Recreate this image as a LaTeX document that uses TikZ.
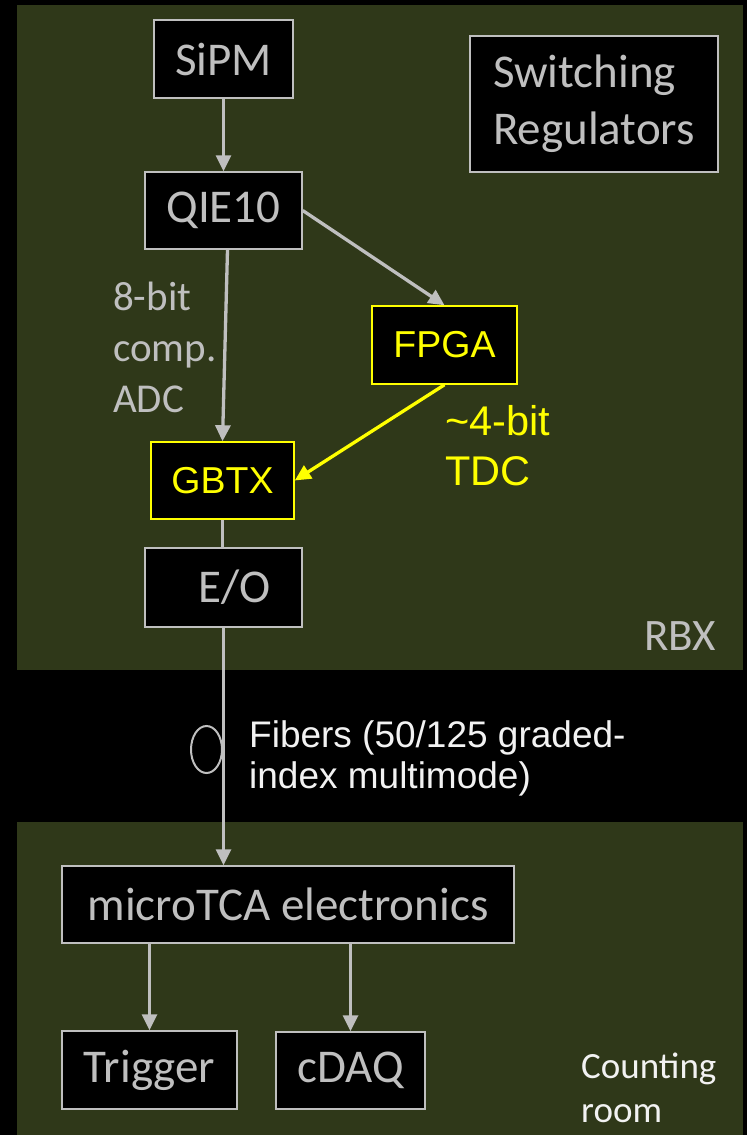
\documentclass[tikz,border=0pt]{standalone}
\usepackage{fontspec}
\setmainfont{Carlito}
\newfontfamily\arialf{Liberation Sans}
\usetikzlibrary{arrows.meta,calc,shapes.geometric}
\definecolor{panelgreen}{HTML}{2F3819}
\definecolor{lgray}{HTML}{BFBFBF}
\definecolor{yel}{HTML}{FFFF00}
\definecolor{offwhite}{HTML}{F2F2F2}
\begin{document}
\begin{tikzpicture}[x=1pt,y=-1pt,
  box/.style={draw=lgray, line width=1.5pt, fill=black, text=lgray, inner sep=0pt, font=\fontsize{47}{57}\selectfont},
  ybox/.style={box, draw=yel, text=yel, font=\arialf\fontsize{37.5}{45}\selectfont},
  arr/.style={draw=lgray, line width=3.3pt, -{Triangle[length=16pt,width=15pt]}},
  yarr/.style={arr, draw=yel, fill=yel},
  plain/.style={draw=lgray, line width=3.3pt},
  lbl/.style={inner sep=0pt, align=left}]
\useasboundingbox (0,0) rectangle (747,1135);
\fill[black] (0,0) rectangle (747,1135);
\fill[panelgreen] (17,5) rectangle (743,670);
\fill[panelgreen] (17,822) rectangle (743,1135);

\node[box, minimum width=139pt, minimum height=78pt] (sipm) at (223.5,59) {SiPM};
\node[box, minimum width=157pt, minimum height=77pt] (qie) at (223.5,210.5) {QIE10};
\node[box, minimum width=248pt, minimum height=136pt, align=left] (sw) at (594,104) {Switching\\Regulators};
\node[ybox, minimum width=145pt, minimum height=78pt] (fpga) at (444.5,345) {FPGA};
\node[ybox, minimum width=143pt, minimum height=77pt] (gbtx) at (222.5,480.5) {GBTX};
\node[box, minimum width=157pt, minimum height=79pt] (eo) at (223.5,587.5) {\hspace*{22pt}E/O};
\node[box, minimum width=452pt, minimum height=77pt] (mtca) at (288,904.5) {microTCA electronics};
\node[box, minimum width=175pt, minimum height=78pt] (trig) at (149.5,1070) {Trigger};
\node[box, minimum width=149pt, minimum height=77pt] (cdaq) at (350.5,1070.5) {cDAQ};

\node[ellipse, draw=lgray, line width=2pt, minimum width=31pt, minimum height=47pt, inner sep=0pt] (loop) at (206.5,749.5) {};

\node[lbl, anchor=base west, text=lgray, font=\fontsize{41}{51}\selectfont] (adc) at (113,412) {8-bit\\comp.\\ADC};
\node[lbl, anchor=base west, text=yel, font=\arialf\fontsize{41.5}{50}\selectfont] (tdc) at (445,485) {\textasciitilde4-bit\\TDC};
\node[lbl, anchor=base west, text=offwhite, font=\arialf\fontsize{37}{41}\selectfont] (fib) at (249,788) {Fibers (50/125 graded-\\index multimode)};
\node[lbl, anchor=base east, text=lgray, font=\fontsize{45}{54}\selectfont] (rbx) at (716,650) {RBX};
\node[lbl, anchor=base west, text=offwhite, font=\fontsize{37}{44}\selectfont] (room) at (581,1122) {Counting\\room};

\draw[arr] (sipm.south) -- (qie.north);
\draw[arr] ($(qie.south)+(4,0)$) -- (gbtx.north);
\draw[arr] (qie.east) -- (fpga.north);
\draw[yarr] (fpga.south) -- (gbtx.east);
\draw[plain] (gbtx.south) -- (gbtx.south |- eo.north);
\draw[arr] (eo.south) -- (eo.south |- mtca.north);
\draw[arr] (trig.north |- mtca.south) -- (trig.north);
\draw[arr] (cdaq.north |- mtca.south) -- (cdaq.north);
\end{tikzpicture}
\end{document}
